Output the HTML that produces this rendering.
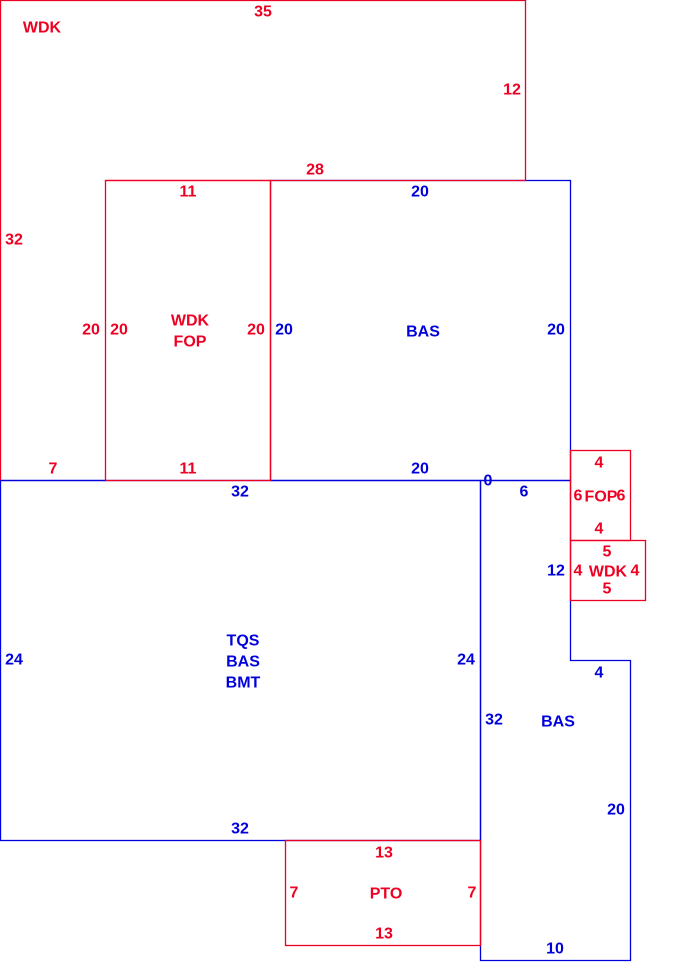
<!DOCTYPE html>
<html><head><meta charset="utf-8"><style>body{margin:0;background:#fff}svg{display:block}text{font-family:"Liberation Sans",sans-serif;font-weight:bold;font-size:16px;text-anchor:middle;dominant-baseline:central}</style></head><body>
<svg width="686" height="970" viewBox="0 0 686 970" xmlns="http://www.w3.org/2000/svg">
<g fill="none" stroke-width="1.3">
<rect x="270.5" y="180.5" width="300" height="300" stroke="#0000dd"/>
<rect x="0.5" y="480.5" width="480" height="360" stroke="#0000dd"/>
<polyline points="480.5,480.5 570.5,480.5 570.5,660.5 630.5,660.5 630.5,960.5 480.5,960.5 480.5,480.5" stroke="#0000dd"/>
<polyline points="0.5,480.5 0.5,0.5 525.5,0.5 525.5,180.5 105.5,180.5" stroke="#ee0022"/>
<rect x="105.5" y="180.5" width="165" height="300" stroke="#ee0022"/>
<line x1="0.5" y1="480.5" x2="105.5" y2="480.5" stroke="#0000dd"/>
<rect x="570.5" y="450.5" width="60" height="90" stroke="#ee0022"/>
<rect x="570.5" y="540.5" width="75" height="60" stroke="#ee0022"/>
<rect x="285.5" y="840.5" width="195" height="105" stroke="#ee0022"/>
</g>
<g fill="#ee0022">
<text x="42" y="28">WDK</text><text x="263" y="12">35</text><text x="512" y="90">12</text><text x="315" y="170">28</text>
<text x="14" y="240">32</text><text x="188" y="192">11</text><text x="91" y="330">20</text><text x="119" y="330">20</text>
<text x="190" y="321">WDK</text><text x="190" y="342">FOP</text><text x="256" y="330">20</text>
<text x="53" y="469">7</text><text x="188" y="469">11</text>
<text x="599" y="463">4</text><text x="578" y="496">6</text><text x="601" y="497">FOP</text><text x="621" y="496">6</text><text x="599" y="529">4</text>
<text x="607" y="552">5</text><text x="578" y="571">4</text><text x="608" y="572">WDK</text><text x="635" y="571">4</text><text x="607" y="589">5</text>
<text x="384" y="853">13</text><text x="294" y="893">7</text><text x="386" y="894">PTO</text><text x="472" y="893">7</text><text x="384" y="934">13</text>
</g>
<g fill="#0000dd">
<text x="420" y="192">20</text><text x="284" y="330">20</text><text x="423" y="332">BAS</text><text x="556" y="330">20</text><text x="420" y="469">20</text>
<text x="240" y="492">32</text><text x="488" y="481">0</text><text x="524" y="492">6</text><text x="556" y="571">12</text>
<text x="14" y="660">24</text><text x="243" y="641">TQS</text><text x="243" y="662">BAS</text><text x="243" y="683">BMT</text><text x="466" y="660">24</text>
<text x="599" y="673">4</text><text x="494" y="720">32</text><text x="558" y="722">BAS</text><text x="616" y="810">20</text>
<text x="240" y="829">32</text><text x="555" y="949">10</text>
</g>
</svg>
</body></html>
